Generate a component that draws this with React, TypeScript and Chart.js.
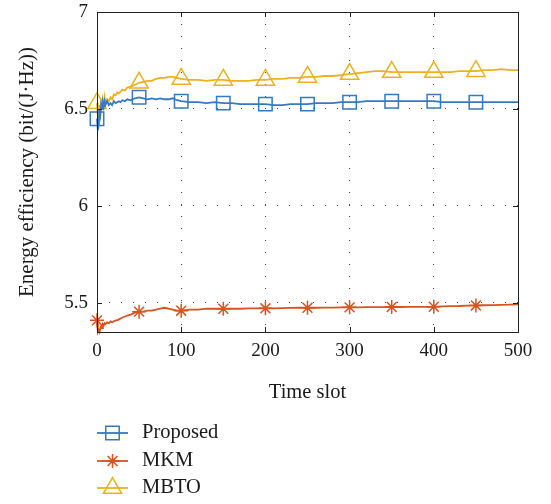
import React, { useEffect, useRef } from 'react';
import { Chart, registerables } from 'chart.js';

Chart.register(...registerables);

// ---- data ----
const slots = [
  0, 1, 2, 3, 4, 5, 6, 7, 8, 9, 10,
  12, 14, 16, 18, 20, 22, 24, 26, 28, 30,
  33, 36, 40, 45, 50,
  55, 60, 65, 70, 75, 80, 85, 90, 95, 100,
  110, 120, 130, 140, 150, 160, 170, 180, 190, 200,
  210, 220, 230, 240, 250, 260, 270, 280, 290, 300,
  310, 320, 330, 340, 350, 360, 370, 380, 390, 400,
  410, 420, 430, 440, 450, 460, 470, 480, 490, 500,
];

const proposed = [
  6.45, 6.39, 6.42, 6.5, 6.47, 6.52, 6.5, 6.53, 6.51, 6.54, 6.52,
  6.54, 6.52, 6.53, 6.52, 6.54, 6.53, 6.535, 6.54, 6.535, 6.545,
  6.54, 6.55, 6.545, 6.555, 6.56,
  6.555, 6.55, 6.555, 6.55, 6.555, 6.55, 6.55, 6.555, 6.545, 6.54,
  6.535, 6.535, 6.53, 6.535, 6.53, 6.53, 6.525, 6.525, 6.525, 6.525,
  6.52, 6.52, 6.525, 6.525, 6.525, 6.53, 6.53, 6.53, 6.535, 6.535,
  6.535, 6.54, 6.54, 6.54, 6.54, 6.54, 6.54, 6.54, 6.54, 6.54,
  6.535, 6.535, 6.535, 6.535, 6.535, 6.535, 6.535, 6.535, 6.535, 6.535,
];

const mkm = [
  5.41, 5.35, 5.36, 5.35, 5.37, 5.38, 5.37, 5.39, 5.385, 5.395, 5.39,
  5.4, 5.395, 5.405, 5.4, 5.405, 5.41, 5.41, 5.415, 5.42, 5.425,
  5.43, 5.435, 5.44, 5.45, 5.455,
  5.455, 5.46, 5.46, 5.465, 5.47, 5.475, 5.47, 5.465, 5.46, 5.46,
  5.465, 5.465, 5.47, 5.47, 5.47, 5.47, 5.47, 5.472, 5.472, 5.472,
  5.472, 5.473, 5.474, 5.475, 5.475, 5.475, 5.476, 5.476, 5.477, 5.477,
  5.477, 5.478, 5.478, 5.478, 5.479, 5.479, 5.48, 5.48, 5.48, 5.48,
  5.482, 5.483, 5.484, 5.486, 5.487, 5.488, 5.489, 5.49, 5.491, 5.492,
];

const mbto = [
  6.53, 6.46, 6.42, 6.52, 6.49, 6.55, 6.51, 6.54, 6.52, 6.56, 6.53,
  6.55, 6.54, 6.56, 6.55, 6.575, 6.57, 6.585, 6.58, 6.59, 6.6,
  6.595, 6.61, 6.615, 6.625, 6.635,
  6.64, 6.645, 6.645, 6.655, 6.66, 6.66, 6.665, 6.665, 6.66, 6.655,
  6.65, 6.65, 6.645, 6.65, 6.65, 6.645, 6.645, 6.645, 6.65, 6.65,
  6.655, 6.655, 6.66, 6.66, 6.665, 6.665, 6.67, 6.67, 6.675, 6.68,
  6.685, 6.69, 6.695, 6.695, 6.69, 6.69, 6.69, 6.69, 6.69, 6.69,
  6.69, 6.69, 6.695, 6.695, 6.695, 6.7, 6.7, 6.705, 6.7, 6.7,
];

const markerSlots = [0, 50, 100, 150, 200, 250, 300, 350, 400, 450];
const xTicks = [0, 100, 200, 300, 400, 500];
const yTicks = [5.5, 6, 6.5, 7];
const seriesNames = ['Proposed', 'MKM', 'MBTO'];
const xTitle = 'Time slot';
const yTitle = 'Energy efficiency (bit/(J·Hz))';

// ---- styles ----
const FONT = "'Liberation Serif', 'Times New Roman', serif";
const TEXT = '#1a1a1a';
const seriesColors = ['#3479C2', '#D9531E', '#EDB120'];
const seriesMarkers = ['rect', 'star', 'triangle'];
const markerRadius = [9.5, 7, 10.5];

function drawMarker(ctx: CanvasRenderingContext2D, style: string, x: number, y: number, r: number) {
  ctx.beginPath();
  if (style === 'rect') {
    const s = Math.SQRT1_2 * r;
    ctx.rect(x - s, y - s, 2 * s, 2 * s);
  } else if (style === 'triangle') {
    let a = 0;
    ctx.moveTo(x + Math.sin(a) * r, y - Math.cos(a) * r);
    a += (2 * Math.PI) / 3;
    ctx.lineTo(x + Math.sin(a) * r, y - Math.cos(a) * r);
    a += (2 * Math.PI) / 3;
    ctx.lineTo(x + Math.sin(a) * r, y - Math.cos(a) * r);
    ctx.closePath();
  } else {
    ctx.moveTo(x - r, y); ctx.lineTo(x + r, y);
    ctx.moveTo(x, y - r); ctx.lineTo(x, y + r);
    const d = r * Math.SQRT1_2;
    ctx.moveTo(x - d, y - d); ctx.lineTo(x + d, y + d);
    ctx.moveTo(x - d, y + d); ctx.lineTo(x + d, y - d);
  }
  ctx.stroke();
}

const framePlugin = {
  id: 'frame',
  afterDraw(chart: any) {
    const { ctx, chartArea: a, scales } = chart;
    ctx.save();
    ctx.strokeStyle = '#222';
    ctx.lineWidth = 1;
    ctx.setLineDash([]);
    ctx.strokeRect(Math.round(a.left) + 0.5, Math.round(a.top) + 0.5, Math.round(a.right - a.left), Math.round(a.bottom - a.top));
    const tl = 5;
    ctx.beginPath();
    xTicks.forEach((v) => {
      const px = Math.round(scales.x.getPixelForValue(v)) + 0.5;
      ctx.moveTo(px, a.bottom); ctx.lineTo(px, a.bottom - tl);
      ctx.moveTo(px, a.top); ctx.lineTo(px, a.top + tl);
    });
    yTicks.forEach((v) => {
      const py = Math.round(scales.y.getPixelForValue(v)) + 0.5;
      ctx.moveTo(a.left, py); ctx.lineTo(a.left + tl, py);
      ctx.moveTo(a.right, py); ctx.lineTo(a.right - tl, py);
    });
    ctx.stroke();

    // legend
    const lx0 = 97, lx1 = 128, mx = 112.5, tx = 142;
    const rows = [433, 461, 488];
    ctx.font = `20.5px ${FONT}`;
    ctx.textBaseline = 'middle';
    ctx.textAlign = 'left';
    seriesNames.forEach((name, i) => {
      const y = rows[i];
      ctx.strokeStyle = seriesColors[i];
      ctx.lineWidth = 1.8;
      ctx.beginPath();
      ctx.moveTo(lx0, y); ctx.lineTo(lx1, y);
      ctx.stroke();
      ctx.lineWidth = 1.5;
      drawMarker(ctx, seriesMarkers[i], mx, y, markerRadius[i]);
      ctx.fillStyle = TEXT;
      ctx.fillText(name, tx, y);
    });
    ctx.restore();
  },
};

export default function App() {
  const ref = useRef<HTMLCanvasElement>(null);
  useEffect(() => {
    document.body.style.margin = '0';
    const series = [proposed, mkm, mbto];
    const chart = new Chart(ref.current as HTMLCanvasElement, {
      type: 'line',
      data: {
        datasets: seriesNames.map((name, i) => ({
          label: name,
          data: slots.map((s, k) => ({ x: s, y: series[i][k] })),
          borderColor: seriesColors[i],
          borderWidth: 1.8,
          tension: 0,
          fill: false,
          clip: false as any,
          pointStyle: seriesMarkers[i] as any,
          pointRadius: (c: any) => (c.raw && markerSlots.includes(c.raw.x) ? markerRadius[i] : 0),
          pointHoverRadius: 0,
          pointBackgroundColor: 'rgba(0,0,0,0)',
          pointBorderColor: seriesColors[i],
          pointBorderWidth: 1.5,
        })),
      },
      options: {
        animation: false,
        responsive: false,
        events: [],
        layout: { padding: { top: 12, right: 33, left: 0, bottom: 0 } },
        plugins: { legend: { display: false }, tooltip: { enabled: false } },
        scales: {
          x: {
            type: 'linear',
            min: 0,
            max: 500,
            afterBuildTicks: (s: any) => { s.ticks = xTicks.map((v) => ({ value: v })); },
            afterFit: (s: any) => { s.height = 172; s.paddingLeft = 0; s.paddingRight = 0; },
            ticks: { font: { family: FONT, size: 19 }, color: TEXT, padding: 8, maxRotation: 0 },
            grid: {
              drawTicks: false,
              color: (c: any) => (c.tick && c.tick.value > 0 && c.tick.value < 500 ? '#444' : 'rgba(0,0,0,0)'),
              lineWidth: 1,
            },
            border: { display: false, dash: [1, 11] },
            title: { display: true, text: xTitle, font: { family: FONT, size: 20.5 }, color: TEXT, padding: { top: 0, bottom: 99.5 } },
          },
          y: {
            type: 'linear',
            min: 5.35,
            max: 7,
            afterBuildTicks: (s: any) => { s.ticks = yTicks.map((v) => ({ value: v })); },
            afterFit: (s: any) => { s.width = 97; s.paddingTop = 0; s.paddingBottom = 0; },
            ticks: { font: { family: FONT, size: 19 }, color: TEXT, padding: 9, callback: (v: any) => String(v) },
            grid: {
              drawTicks: false,
              color: (c: any) => (c.tick && c.tick.value > 5.36 && c.tick.value < 7 ? '#444' : 'rgba(0,0,0,0)'),
              lineWidth: 1,
            },
            border: { display: false, dash: [1, 11] },
            title: { display: true, text: yTitle, font: { family: FONT, size: 21 }, color: TEXT, padding: { top: 14.5, bottom: 0 } },
          },
        },
      },
      plugins: [framePlugin],
    });
    return () => chart.destroy();
  }, []);
  return (
    <div style={{ width: 551, height: 504, position: 'relative' }}>
      <canvas ref={ref} width={551} height={504} style={{ display: 'block' }} />
    </div>
  );
}
